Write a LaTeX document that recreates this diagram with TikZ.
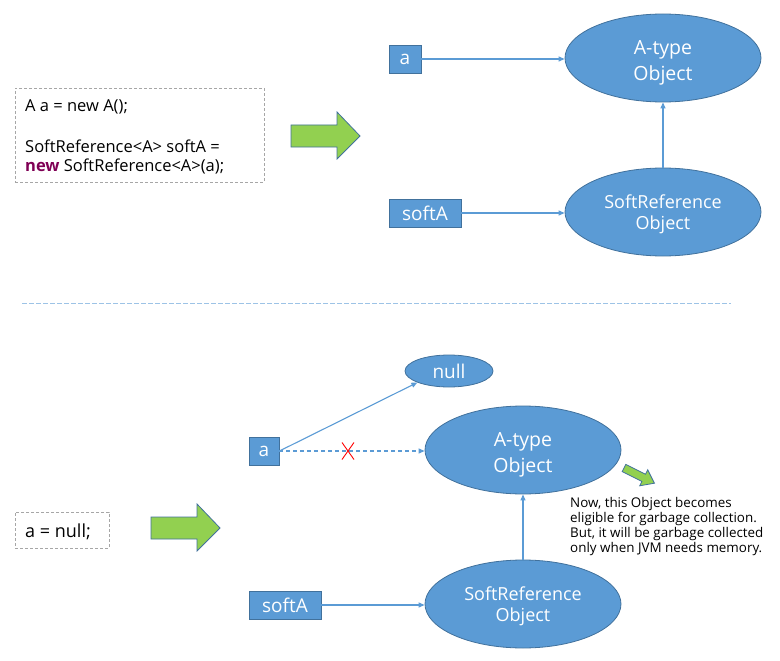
\documentclass[tikz,border=0pt]{standalone}
\usepackage{fontspec}
\setmainfont{Open Sans}
\usetikzlibrary{shapes.geometric,arrows.meta}
\definecolor{boxblue}{HTML}{5B9BD5}
\definecolor{edgeblue}{HTML}{41719C}
\definecolor{linkblue}{HTML}{5B9BD5}
\definecolor{arrgreen}{HTML}{92D050}
\definecolor{codegray}{HTML}{A6A6A6}
\definecolor{sepblue}{HTML}{9DC3E6}
\definecolor{kwpurple}{HTML}{7F0055}
\tikzset{
  refbox/.style={draw=edgeblue, fill=boxblue, line width=0.8pt, text=white, inner sep=0pt, minimum height=28pt, font=\fontsize{19}{21}\selectfont},
  objell/.style={ellipse, draw=edgeblue, fill=boxblue, line width=0.8pt, text=white, inner sep=0pt, minimum width=196pt, minimum height=88pt, align=center},
  atype/.style={objell, font=\fontsize{19.5}{26.5}\selectfont},
  sref/.style={objell, font=\fontsize{18}{21}\selectfont},
  link/.style={draw=linkblue, line width=1.1pt, -{Triangle[length=6pt,width=5pt]}},
  bigarrow/.style={draw=edgeblue, fill=arrgreen, line width=0.8pt},
  codebox/.style={draw=codegray, dashed, dash pattern=on 3pt off 2pt, line width=0.8pt, inner sep=0pt},
  codetext/.style={anchor=base west, inner sep=0pt, font=\fontsize{16.5}{20}\selectfont},
  note/.style={anchor=base west, inner sep=0pt, font=\fontsize{13.4}{15}\selectfont},
}
\begin{document}
\begin{tikzpicture}[x=1pt,y=-1pt]
\useasboundingbox (0,0) rectangle (780,661);
% ---------- top part ----------
\node[codebox, minimum width=249pt, minimum height=94pt] (code1) at (139.5,135) {};
\node[codetext] (c1l1) at (25,111.5) {A a = new A();};
\node[codetext] (c1l2) at (25,152) {SoftReference<A> softA =};
\node[codetext] (c1l3) at (25,171.5) {\textcolor{kwpurple}{\bfseries new} SoftReference<A>(a);};
\draw[bigarrow] (291,125) -- (337,125) -- (337,112) -- (360,136) -- (337,159) -- (337,147) -- (291,147) -- cycle;

\node[refbox, minimum width=32pt] (a1) at (405,59) {a};
\node[refbox, minimum width=72pt] (s1) at (425,213) {softA};
\node[atype] (A1) at (663,58) {\rule{0pt}{23.2pt}A-type\\Object};
\node[sref] (S1) at (663,212) {\rule{0pt}{19.3pt}SoftReference\\Object};
\draw[link] (a1.east) -- (a1.east -| A1.west);
\draw[link] (s1.east) -- (s1.east -| S1.west);
\draw[link] (S1.north) -- (A1.south);

% ---------- separator ----------
\coordinate (sepL) at (22,303);
\coordinate (sepR) at (731,303);
\draw[sepblue, line width=0.8pt, dash pattern=on 5pt off 2pt] (sepL) -- (sepR);

% ---------- bottom part ----------
\node[codebox, minimum width=94pt, minimum height=36pt] (code2) at (62,530) {};
\node[codetext, font=\fontsize{18}{20}\selectfont] (c2l1) at (25,537) {a = null;};
\draw[bigarrow] (151,517) -- (197,517) -- (197,504) -- (220,528) -- (197,551) -- (197,539) -- (151,539) -- cycle;

\node[refbox, minimum width=30pt] (a2) at (264,451) {a};
\node[refbox, minimum width=72pt] (s2) at (285,605) {softA};
\node[ellipse, draw=edgeblue, fill=boxblue, line width=0.8pt, text=white, inner sep=0pt, minimum width=88pt, minimum height=32pt, font=\fontsize{19}{20}\selectfont] (null) at (449,371) {null};
\node[atype] (A2) at (523,450) {\rule{0pt}{23.2pt}A-type\\Object};
\node[sref] (S2) at (523,604) {\rule{0pt}{19.3pt}SoftReference\\Object};
\draw[link] (a2.east) -- (null.200);
\draw[link, dashed, dash pattern=on 4pt off 3pt] (a2.east) -- (a2.east -| A2.west);
\draw[link] (s2.east) -- (s2.east -| S2.west);
\draw[link] (S2.north) -- (A2.south);
\coordinate (xc) at (348,451);
\draw[red, line width=0.9pt] ([shift={(-6,-8.5)}]xc) -- ([shift={(6,8.5)}]xc);
\draw[red, line width=0.9pt] ([shift={(6,-8.5)}]xc) -- ([shift={(-6,8.5)}]xc);
\draw[bigarrow] (622.2,471.6) -- (641.9,481.4) -- (639.7,485.8) -- (654.4,483.2) -- (647.7,469.8) -- (645.5,474.2) -- (625.8,464.4) -- cycle;
\node[note] (n1) at (570,507) {Now, this Object becomes};
\node[note] (n2) at (570,522) {eligible for garbage collection.};
\node[note] (n3) at (570,537) {But, it will be garbage collected};
\node[note] (n4) at (570,552) {only when JVM needs memory.};
\end{tikzpicture}
\end{document}
